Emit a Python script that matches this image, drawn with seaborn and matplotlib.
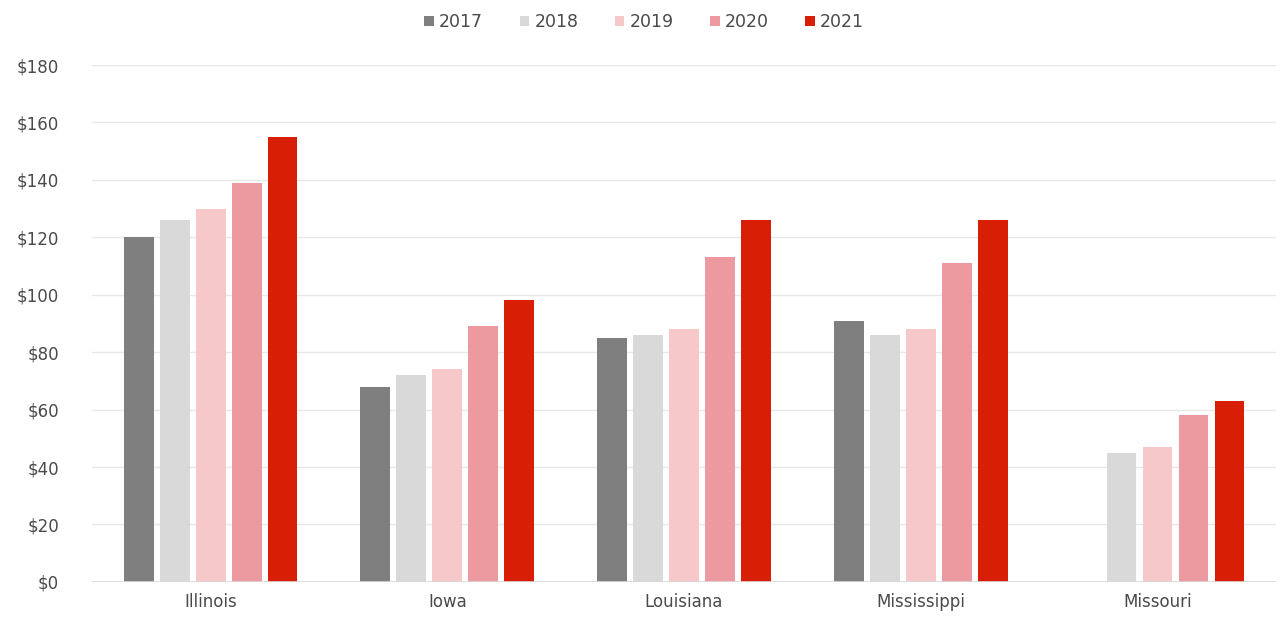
import matplotlib

matplotlib.use("Agg")

import matplotlib.pyplot as plt
import numpy as np
import pandas as pd
import seaborn as sns

# ==========================================================
# Data
# ==========================================================

STATES = ["Illinois", "Iowa", "Louisiana", "Mississippi", "Missouri"]
YEARS = ["2017", "2018", "2019", "2020", "2021"]

VALUES_2017 = [120, 68, 85, 91, np.nan]
VALUES_2018 = [126, 72, 86, 86, 45]
VALUES_2019 = [130, 74, 88, 88, 47]
VALUES_2020 = [139, 89, 113, 111, 58]
VALUES_2021 = [155, 98, 126, 126, 63]

Y_TICKS = [0, 20, 40, 60, 80, 100, 120, 140, 160, 180]

COLORS = ["#7f7f7f", "#d9d9d9", "#f6c8ca", "#ec9aa0", "#d81e05"]

TEXT_COLOR = "#4a4a4a"


def build_frame() -> pd.DataFrame:
    """
    Build a long-format table for seaborn.
    """

    series = [VALUES_2017, VALUES_2018, VALUES_2019, VALUES_2020, VALUES_2021]
    rows = []
    for year, values in zip(YEARS, series):
        for state, value in zip(STATES, values):
            rows.append({"state": state, "year": year, "value": value})
    return pd.DataFrame(rows)


def main() -> None:
    df = build_frame()

    sns.set_theme(style="white")
    plt.rcParams["font.family"] = ["DejaVu Sans"]

    fig = plt.figure(figsize=(12.81, 6.25), dpi=100)
    ax = fig.add_axes([0.072, 0.069, 0.924, 0.827])

    sns.barplot(
        data=df,
        x="state",
        y="value",
        hue="year",
        order=STATES,
        hue_order=YEARS,
        palette=COLORS,
        width=0.76,
        gap=0.17,
        saturation=1,
        linewidth=0,
        ax=ax,
        zorder=3,
    )

    ax.set_xlim(-0.5, 4.5)
    ax.set_ylim(0, 180)
    ax.set_yticks(Y_TICKS)
    ax.set_yticklabels([f"${v}" for v in Y_TICKS])
    ax.set_xlabel("")
    ax.set_ylabel("")

    ax.grid(axis="y", color="#e8e8e8", linewidth=1, zorder=0)
    ax.axhline(0, color="#d9d9d9", linewidth=1.2, zorder=4)
    for side in ["top", "right", "left", "bottom"]:
        ax.spines[side].set_visible(False)

    ax.tick_params(axis="both", length=0, colors=TEXT_COLOR, labelsize=12)
    ax.tick_params(axis="y", pad=24)
    ax.tick_params(axis="x", pad=8)

    sns.move_legend(
        ax,
        "center",
        bbox_to_anchor=(0.503, 0.965),
        bbox_transform=fig.transFigure,
        ncol=5,
        frameon=False,
        title=None,
        handlelength=0.55,
        handleheight=0.55,
        handletextpad=0.3,
        columnspacing=2.1,
        fontsize=12.5,
    )
    for text in ax.get_legend().get_texts():
        text.set_color(TEXT_COLOR)

    fig.savefig("out.png", dpi=100)
    plt.close(fig)


if __name__ == "__main__":
    main()
